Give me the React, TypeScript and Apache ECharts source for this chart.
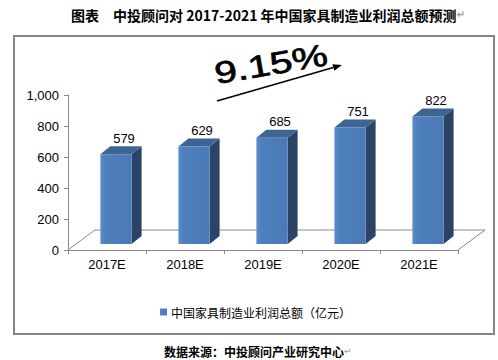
import React, { useEffect, useRef } from "react";
import * as echarts from "echarts";

const categories = ["2017E", "2018E", "2019E", "2020E", "2021E"];
const profits = [579, 629, 685, 751, 822];
const seriesName = "中国家具制造业利润总额（亿元）";
const titleText = "图表　中投顾问对 2017-2021 年中国家具制造业利润总额预测";
const sourceText = "数据来源：中投顾问产业研究中心";
const growthText = "9.15%";

const NUM_FONT = "'Liberation Sans', Arial, sans-serif";
const CJK_FONT = "'Noto Sans CJK SC', sans-serif";

export default function App() {
  const ref = useRef<HTMLDivElement>(null);
  useEffect(() => {
    document.body.style.margin = "0";
    const chart = echarts.init(ref.current!, null, { renderer: "svg" });

    const renderBar = (params: any, api: any) => {
      const i = api.value(0);
      const v = api.value(1);
      const top = api.coord([i, v]);
      const base = api.coord([i, 0]);
      const band = api.size([1, 0])[0];
      const w = band * 0.4;
      const ox = 9, oy = -6;
      const dx = 10, dy = -8;
      const cx = top[0] + ox;
      const x0 = cx - w / 2;
      const x1 = cx + w / 2;
      const yt = top[1] + oy;
      const yb = base[1] + oy;
      return {
        type: "group",
        children: [
          {
            type: "polygon",
            shape: { points: [[x1, yt], [x1 + dx, yt + dy], [x1 + dx, yb + dy], [x1, yb]] },
            style: { fill: "#2b4367" },
          },
          {
            type: "polygon",
            shape: { points: [[x0, yt], [x0 + dx, yt + dy], [x1 + dx, yt + dy], [x1, yt]] },
            style: { fill: "#3d6594" },
          },
          {
            type: "rect",
            shape: { x: x0, y: yt, width: w, height: yb - yt },
            style: {
              fill: new echarts.graphic.LinearGradient(0, 0, 1, 0, [
                { offset: 0, color: "#5b8dcb" },
                { offset: 0.15, color: "#4e80bd" },
                { offset: 1, color: "#4a7ab6" },
              ]),
            },
          },
          {
            type: "text",
            x: cx + 8,
            y: yt - 16,
            style: {
              text: String(v),
              fill: "#000",
              fontSize: 13,
              fontFamily: NUM_FONT,
              align: "center",
              verticalAlign: "middle",
              textAlign: "center",
              textVerticalAlign: "middle",
            },
          },
        ],
      };
    };

    const renderFloor = (params: any) => {
      const cs = params.coordSys;
      const ddx = 27, ddy = -20;
      const yb = cs.y + cs.height;
      const style = { stroke: "#8a8a8a", lineWidth: 1 };
      return {
        type: "group",
        children: [
          { type: "line", shape: { x1: cs.x + ddx, y1: yb + ddy, x2: cs.x + cs.width + ddx, y2: yb + ddy }, style },
          { type: "line", shape: { x1: cs.x, y1: yb, x2: cs.x + ddx, y2: yb + ddy }, style },
          { type: "line", shape: { x1: cs.x + cs.width, y1: yb, x2: cs.x + cs.width + ddx, y2: yb + ddy }, style },
        ],
      };
    };

    // arrow
    const tip = [342, 65];
    const start = [217, 101];
    const len = Math.hypot(tip[0] - start[0], tip[1] - start[1]);
    const ux = (tip[0] - start[0]) / len, uy = (tip[1] - start[1]) / len;
    const hl = 9, hw = 3.5;
    const bx = tip[0] - ux * hl, by = tip[1] - uy * hl;

    chart.setOption({
      animation: false,
      title: {
        text: "{t|" + titleText + "}{a|↵}",
        left: 66,
        top: 3,
        textStyle: {
          rich: {
            t: { fontSize: 14, fontWeight: "bold", fontFamily: CJK_FONT, color: "#000" },
            a: { fontSize: 10, color: "#999", fontFamily: "DejaVu Sans" },
          },
        },
      },
      legend: {
        data: [seriesName],
        left: 155,
        top: 301,
        icon: "rect",
        itemWidth: 7,
        itemHeight: 7,
        itemGap: 10,
        textStyle: { fontSize: 12, fontFamily: CJK_FONT, color: "#000", padding: [0, 0, 0, -1] },
      },
      grid: { left: 68, right: 40, top: 95, bottom: 110 },
      xAxis: {
        type: "category",
        data: categories,
        axisLine: { lineStyle: { color: "#8a8a8a", width: 1 } },
        axisTick: { show: true, length: 4, lineStyle: { color: "#8a8a8a" } },
        axisLabel: { fontSize: 13, fontFamily: NUM_FONT, color: "#000", margin: 8 },
      },
      yAxis: {
        type: "value",
        min: 0,
        max: 1000,
        interval: 200,
        axisLine: { show: true, lineStyle: { color: "#8a8a8a", width: 1 } },
        axisTick: { show: true, length: 4, lineStyle: { color: "#8a8a8a" } },
        splitLine: { show: false },
        axisLabel: {
          fontSize: 13,
          fontFamily: NUM_FONT,
          color: "#000",
          margin: 9,
          formatter: (v: number) => v.toLocaleString("en-US"),
        },
      },
      graphic: [
        {
          type: "rect",
          shape: { x: 14, y: 36, width: 480, height: 298 },
          style: { fill: "none", stroke: "#858585", lineWidth: 2 },
          z: -1,
        },
        {
          type: "text",
          x: 271,
          y: 64,
          rotation: 0.17,
          scaleX: 1.3,
          style: {
            text: growthText,
            fontSize: 31,
            fontFamily: NUM_FONT,
            fill: "#000",
            stroke: "#000",
            lineWidth: 0.7,
            textAlign: "center",
            textVerticalAlign: "middle",
            align: "center",
            verticalAlign: "middle",
          },
        },
        {
          type: "line",
          shape: { x1: start[0], y1: start[1], x2: bx, y2: by },
          style: { stroke: "#000", lineWidth: 1.5 },
        },
        {
          type: "polygon",
          shape: {
            points: [
              [tip[0], tip[1]],
              [bx - uy * hw, by + ux * hw],
              [bx + uy * hw, by - ux * hw],
            ],
          },
          style: { fill: "#000" },
        },
        {
          type: "text",
          x: 164,
          y: 351,
          style: {
            text: "{t|" + sourceText + "}{a|↵}",
            rich: {
              t: { fontSize: 12, fontWeight: "bold", fontFamily: CJK_FONT, fill: "#000", color: "#000" },
              a: { fontSize: 9, fontFamily: "DejaVu Sans", fill: "#999", color: "#999" },
            },
            textAlign: "left",
            textVerticalAlign: "middle",
            align: "left",
            verticalAlign: "middle",
          },
        },
      ],
      series: [
        {
          type: "custom",
          name: "floor",
          silent: true,
          z: 1,
          data: [[0, 0]],
          encode: { x: 0, y: 1 },
          renderItem: renderFloor,
        },
        {
          type: "custom",
          name: seriesName,
          z: 2,
          itemStyle: { color: "#4f81bd" },
          data: profits.map((v, i) => [i, v]),
          encode: { x: 0, y: 1 },
          renderItem: renderBar,
        },
      ],
    });
    return () => chart.dispose();
  }, []);
  return <div ref={ref} style={{ width: 498, height: 360 }} />;
}
